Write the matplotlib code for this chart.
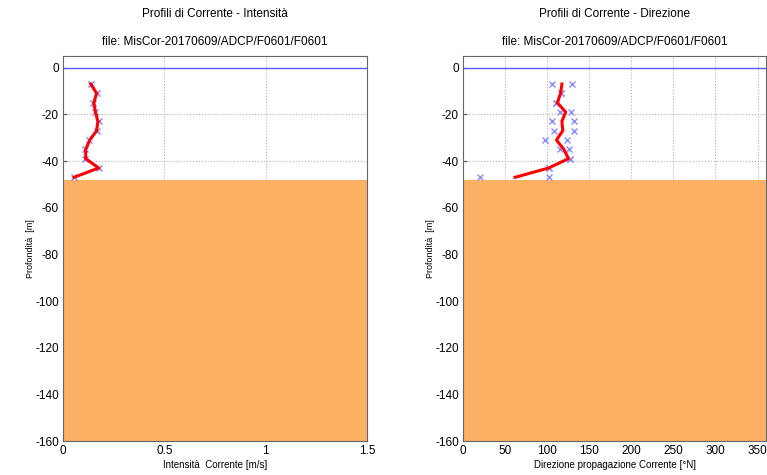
import matplotlib.pyplot as plt
import numpy as np

plt.rcParams['font.family'] = ['Liberation Sans', 'DejaVu Sans']
plt.rcParams['axes.unicode_minus'] = False

# profondità dei bin [m]
depth = [-7, -11, -15, -19, -23, -27, -31, -35, -39, -43, -47]

# intensità [m/s]
int_pts = [0.137, 0.166, 0.146, 0.158, 0.176, 0.166, 0.130, 0.110, 0.110, 0.179, 0.054]
int_line = [0.137, 0.166, 0.152, 0.160, 0.172, 0.166, 0.132, 0.112, 0.112, 0.176, 0.054]

# direzione [°N] - due serie di punti e profilo medio
dir_pts_a = [105.7, 116.7, 110.0, 115.5, 105.7, 107.6, 97.0, 115.5, 127.6, 101.8, 20.5]
dir_pts_b = [129.0, 116.7, 110.0, 128.0, 131.5, 131.5, 123.3, 126.0, 127.6, 101.8, 101.8]
dir_line = [117.5, 116.0, 112.0, 122.0, 117.5, 118.6, 111.0, 119.8, 125.3, 101.8, 61.8]

seabed = -48
ymin = -160

orange = '#fcb064'
yticks = np.arange(-160, 1, 20)

fig = plt.figure(figsize=(7.67, 4.75), dpi=100)
ax1 = fig.add_axes([63 / 767, 34 / 475, 304 / 767, 385 / 475])
ax2 = fig.add_axes([463 / 767, 34 / 475, 303 / 767, 385 / 475])


def style(ax, xlim, xticks, xlabel, title):
    ax.set_xlim(*xlim)
    ax.set_ylim(ymin, 5)
    ax.set_xticks(xticks)
    ax.set_yticks(yticks)
    ax.set_axisbelow(True)
    ax.grid(True, linestyle=':', color='#b0b0b0', linewidth=0.8)
    ax.fill_between(xlim, seabed, ymin, color=orange, zorder=1, linewidth=0)
    ax.axhline(0, color='#5a5aff', linewidth=1.0, zorder=2)
    ax.tick_params(labelsize=8.5, length=3, direction='in', color='#555555', pad=3)
    for s in ax.spines.values():
        s.set_color('#666666')
        s.set_linewidth(0.8)
        s.set_zorder(5)
    ax.set_xlabel(xlabel, fontsize=7, labelpad=2)
    ax.set_ylabel('Profondità  [m]', fontsize=6.5, labelpad=0)
    cx = (ax.get_position().x0 + ax.get_position().x1) / 2
    fig.text(cx, 1 - 14 / 475, title, ha='center', va='center', fontsize=8.5)
    fig.text(cx, 1 - 42 / 475, 'file: MisCor-20170609/ADCP/F0601/F0601',
             ha='center', va='center', fontsize=8.5)


style(ax1, (0, 1.5), [0, 0.5, 1, 1.5], 'Intensità  Corrente [m/s]',
      'Profili di Corrente - Intensità')
ax1.set_xticklabels(['0', '0.5', '1', '1.5'])
ax1.plot(int_pts, depth, 'x', color='#8080ff', markersize=5, zorder=3)
ax1.plot(int_line, depth, color='red', linewidth=2.2, zorder=4)

style(ax2, (0, 360), np.arange(0, 351, 50), 'Direzione propagazione Corrente [°N]',
      'Profili di Corrente - Direzione')
ax2.plot(dir_pts_a, depth, 'x', color='#8c8cff', markersize=5, zorder=3)
ax2.plot(dir_pts_b, depth, 'x', color='#8c8cff', markersize=5, zorder=3)
ax2.plot(dir_line, depth, color='red', linewidth=2.2, zorder=4)

fig.savefig('out.png', dpi=100)
